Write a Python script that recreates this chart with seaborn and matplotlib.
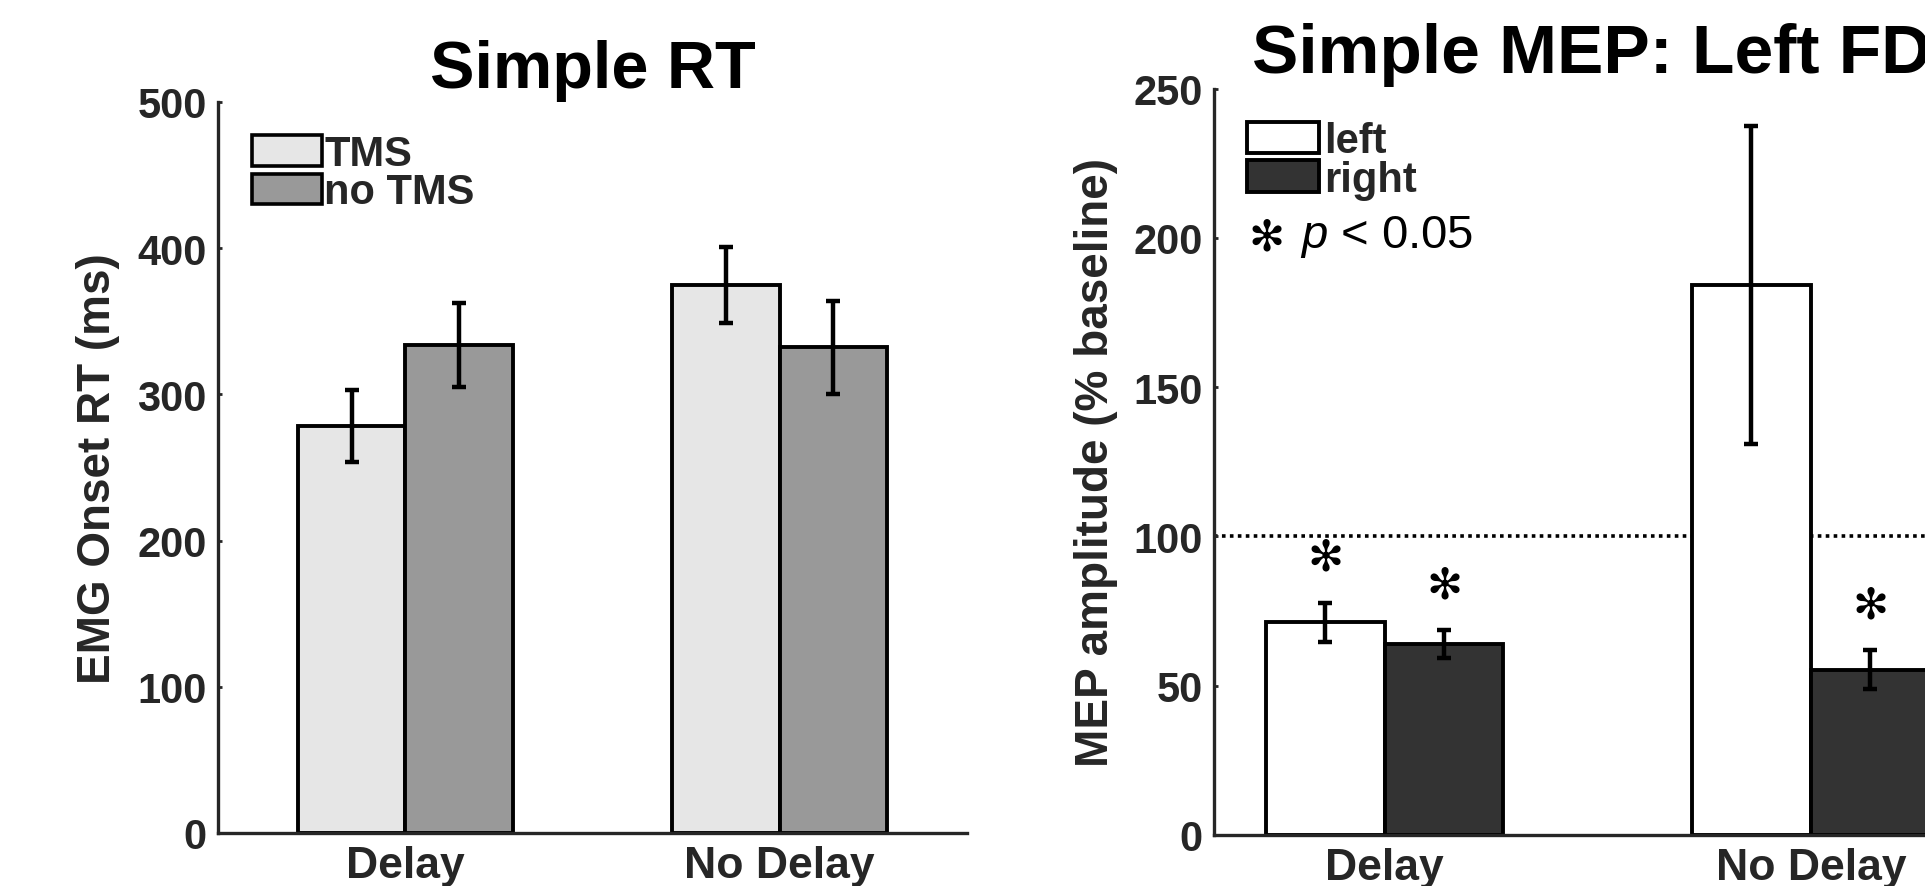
import matplotlib
matplotlib.use("Agg")
import matplotlib.pyplot as plt
from matplotlib.patches import Patch
import pandas as pd
import seaborn as sns

# --- data ---
conditions = ["Delay", "No Delay"]

rt_groups = ["TMS", "no TMS"]
rt_tms = [278.6, 374.9]
rt_tms_err = [24.5, 26.2]
rt_notms = [333.7, 332.2]
rt_notms_err = [28.7, 32.0]

mep_groups = ["left", "right"]
mep_left = [71.3, 184.2]
mep_left_err = [6.5, 53.4]
mep_right = [63.9, 55.4]
mep_right_err = [4.7, 6.4]
mep_left_sig = [True, False]
mep_right_sig = [True, True]
baseline = 100

rt_colors = {"TMS": "#e6e6e6", "no TMS": "#999999"}
mep_colors = {"left": "#ffffff", "right": "#333333"}

FONT = ["Liberation Sans", "DejaVu Sans"]
STAR = "\u273b"  # teardrop-spoked asterisk, closest to the original glyph
TICK_COLOR = "#262626"
W, H = 1925, 887


def make_frame(groups, first, first_err, second, second_err):
    return pd.DataFrame(
        {
            "condition": conditions * 2,
            "group": [groups[0]] * 2 + [groups[1]] * 2,
            "value": first + second,
            "err": first_err + second_err,
        }
    )


def draw_panel(ax, df, groups, palette, width):
    sns.barplot(
        data=df, x="condition", y="value", hue="group", order=conditions,
        hue_order=groups, palette=palette, width=width, saturation=1,
        edgecolor="black", linewidth=2.8, errorbar=None, legend=False, ax=ax,
    )
    centers = {}
    for container, group in zip(ax.containers, groups):
        sub = df[df["group"] == group].set_index("condition").loc[conditions]
        xs = [bar.get_x() + bar.get_width() / 2 for bar in container]
        centers[group] = xs
        ax.errorbar(
            xs, sub["value"], yerr=sub["err"], fmt="none", ecolor="black",
            elinewidth=3.2, capsize=4.8, capthick=3.2, zorder=4,
        )
    sns.despine(ax=ax)
    for side in ["left", "bottom"]:
        ax.spines[side].set_linewidth(2.4)
        ax.spines[side].set_color(TICK_COLOR)
    ax.tick_params(direction="in", length=3, width=2, colors=TICK_COLOR)
    ax.tick_params(axis="y", labelsize=30, pad=8)
    ax.tick_params(axis="x", labelsize=32, pad=9)
    for label in ax.get_xticklabels() + ax.get_yticklabels():
        label.set_fontweight("bold")
    ax.set_xlabel("")
    return centers


def main() -> None:
    sns.set_theme(style="ticks")
    plt.rcParams["font.family"] = FONT
    plt.rcParams["mathtext.fontset"] = "custom"
    plt.rcParams["mathtext.it"] = "Liberation Sans:italic"
    plt.rcParams["mathtext.rm"] = "Liberation Sans"

    fig = plt.figure(figsize=(W / 100, H / 100), dpi=100)
    ax_rt = fig.add_axes([218 / W, 1 - 834 / H, 749 / W, 731 / H])
    ax_mep = fig.add_axes([1214 / W, 1 - 836 / H, 810 / W, 746.4 / H])

    # left panel: reaction times
    rt = make_frame(rt_groups, rt_tms, rt_tms_err, rt_notms, rt_notms_err)
    draw_panel(ax_rt, rt, rt_groups, rt_colors, 0.574)
    ax_rt.set_xlim(-0.5, 1.5)
    ax_rt.set_ylim(0, 500)
    ax_rt.set_yticks(range(0, 501, 100))
    ax_rt.set_ylabel("EMG Onset RT (ms)", fontsize=33, fontweight="bold", color=TICK_COLOR)
    ax_rt.yaxis.set_label_coords(-0.16, 0.5)
    ax_rt.yaxis.label.set_verticalalignment("center")
    ax_rt.set_title("Simple RT", fontsize=48, fontweight="bold", color="black", pad=11)
    ax_rt.legend(
        handles=[Patch(facecolor=rt_colors[g], edgecolor="black", linewidth=2.6, label=g)
                 for g in rt_groups],
        loc="upper left", bbox_to_anchor=(252 / W, 1 - 135 / H), bbox_transform=fig.transFigure,
        frameon=False, handlelength=1.68, handleheight=0.74, handletextpad=0.05,
        labelspacing=-0.04, borderpad=0, borderaxespad=0,
        prop={"weight": "bold", "size": 30, "family": FONT},
    )

    # right panel: MEP amplitudes
    mep = make_frame(mep_groups, mep_left, mep_left_err, mep_right, mep_right_err)
    ax_mep.axhline(baseline, color="black", linestyle=(0, (1.0, 1.2)), linewidth=2.6, zorder=0.5)
    centers = draw_panel(ax_mep, mep, mep_groups, mep_colors, 0.558)
    ax_mep.set_xlim(-0.4, 1.5)
    ax_mep.set_ylim(0, 250)
    ax_mep.set_yticks(range(0, 251, 50))
    ax_mep.set_ylabel("MEP amplitude (% baseline)", fontsize=33, fontweight="bold", color=TICK_COLOR)
    ax_mep.yaxis.set_label_coords(-0.146, 0.5)
    ax_mep.yaxis.label.set_verticalalignment("center")
    ax_mep.set_title("Simple MEP: Left FDI", fontsize=50, fontweight="bold", color="black",
                     pad=12, x=0.478)

    sig = {"left": mep_left_sig, "right": mep_right_sig}
    means = {"left": mep_left, "right": mep_right}
    errs = {"left": mep_left_err, "right": mep_right_err}
    for group in mep_groups:
        for x, flag, m, e in zip(centers[group], sig[group], means[group], errs[group]):
            if flag:
                ax_mep.text(x, m + e + 15, STAR, ha="center", va="center",
                            fontsize=31, color="black", family=["DejaVu Sans"])

    ax_mep.legend(
        handles=[Patch(facecolor=mep_colors[g], edgecolor="black", linewidth=2.8, label=g)
                 for g in mep_groups],
        loc="upper left", bbox_to_anchor=(1247 / W, 1 - 122 / H), bbox_transform=fig.transFigure,
        frameon=False, handlelength=1.73, handleheight=0.79, handletextpad=0.12,
        labelspacing=-0.03, borderpad=0, borderaxespad=0,
        prop={"weight": "bold", "size": 30, "family": FONT},
    )
    fig.text(1266 / W, 1 - 238 / H, STAR, fontsize=31, color="black",
             family=["DejaVu Sans"], va="center", ha="center")
    fig.text(1300 / W, 1 - 248 / H, r"$p$ < 0.05", fontsize=34, color="black",
             va="baseline", ha="left")

    fig.savefig("out.png", dpi=100)
    plt.close(fig)


if __name__ == "__main__":
    main()
